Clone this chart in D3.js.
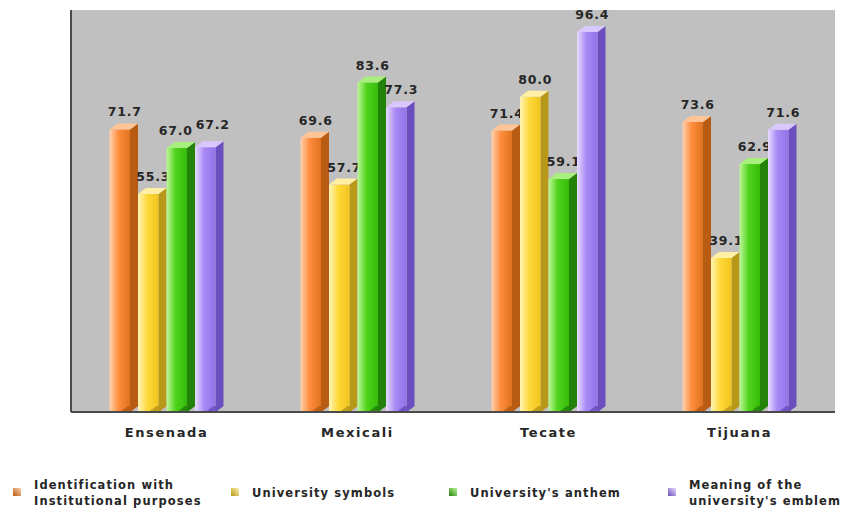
<!DOCTYPE html>
<html>
<head>
<meta charset="utf-8">
<script src="https://cdn.jsdelivr.net/npm/d3@7"></script>
<style>
  html, body { margin: 0; padding: 0; background: #ffffff; }
  svg { display: block; }
  text { font-family: "DejaVu Sans", Verdana, sans-serif; fill: #262626; }
</style>
</head>
<body>
<svg id="chart" width="846" height="515"></svg>
<script>
// Campus groups along the x axis
const campuses = ["Ensenada", "Mexicali", "Tecate", "Tijuana"];

// Series (one bar per campus each), in legend order
const seriesNames = [
  ["Identification with", "Institutional purposes"],
  ["University symbols"],
  ["University's anthem"],
  ["Meaning of the", "university's emblem"]
];
const identificationValues = [71.7, 69.6, 71.4, 73.6];
const symbolsValues        = [55.3, 57.7, 80.0, 39.1];
const anthemValues         = [67.0, 83.6, 59.1, 62.9];
const emblemValues         = [67.2, 77.3, 96.4, 71.6];
const seriesValues = [identificationValues, symbolsValues, anthemValues, emblemValues];

// light / base / side / cap colours per series
const palette = [
  { light: "#ffd2ae", base: "#ff8c3c", dark: "#e0731f", side: "#b85c14", cap: "#ffc596" },
  { light: "#fff4b8", base: "#ffd93a", dark: "#f0c41c", side: "#b89818", cap: "#fff0a6" },
  { light: "#bff79a", base: "#4fd31a", dark: "#36bb0c", side: "#23820a", cap: "#a8ef7e" },
  { light: "#e8dcff", base: "#a889f5", dark: "#9373e8", side: "#6c4fbe", cap: "#d8c8ff" }
];

const svg = d3.select("#chart");
const plot = { left: 71, right: 835, top: 10, bottom: 412 };

const x0 = d3.scaleBand().domain(campuses).range([plot.left, plot.right]).paddingInner(0).paddingOuter(0);
const groupWidth = 114;
const x1 = d3.scaleBand().domain(d3.range(seriesValues.length)).range([0, groupWidth]).padding(0);
const y = d3.scaleLinear().domain([0, 102]).range([plot.bottom, plot.top]);

const depthX = 8, depthY = 6;
const faceW = x1.bandwidth() - depthX;

// gradients
const defs = svg.append("defs");
palette.forEach((c, i) => {
  const g = defs.append("linearGradient").attr("id", "front" + i)
    .attr("x1", "0%").attr("x2", "100%").attr("y1", "0%").attr("y2", "0%");
  g.append("stop").attr("offset", "0%").attr("stop-color", c.light);
  g.append("stop").attr("offset", "45%").attr("stop-color", c.base);
  g.append("stop").attr("offset", "100%").attr("stop-color", c.dark);
  const s = defs.append("linearGradient").attr("id", "swatch" + i)
    .attr("x1", "0%").attr("x2", "100%").attr("y1", "100%").attr("y2", "0%");
  s.append("stop").attr("offset", "0%").attr("stop-color", c.side);
  s.append("stop").attr("offset", "100%").attr("stop-color", c.light);
});

// plot background
svg.append("rect")
  .attr("x", plot.left).attr("y", plot.top)
  .attr("width", plot.right - plot.left).attr("height", plot.bottom - plot.top)
  .attr("fill", "#c0c0c0");

// bars
const groups = svg.selectAll("g.campus").data(campuses).join("g")
  .attr("class", "campus")
  .attr("transform", d => `translate(${x0(d) + (x0.bandwidth() - groupWidth) / 2},0)`);

groups.each(function(campus, ci) {
  const g = d3.select(this);
  const labels = [];
  seriesValues.forEach((vals, si) => {
    const v = vals[ci];
    const bx = x1(si);
    const top = y(v);
    const base = y(0);
    const c = palette[si];
    // side face
    g.append("path")
      .attr("d", `M${bx + faceW},${top} L${bx + faceW + depthX},${top - depthY} L${bx + faceW + depthX},${base - depthY} L${bx + faceW},${base} Z`)
      .attr("fill", c.side);
    // front face
    g.append("rect")
      .attr("x", bx).attr("y", top).attr("width", faceW).attr("height", base - top)
      .attr("fill", `url(#front${si})`);
    // top cap
    g.append("path")
      .attr("d", `M${bx},${top} L${bx + depthX},${top - depthY} L${bx + faceW + depthX},${top - depthY} L${bx + faceW},${top} Z`)
      .attr("fill", c.cap);
    // floor shadow at foot of the side
    g.append("path")
      .attr("d", `M${bx + faceW - 10},${base} L${bx + faceW - 2},${base - depthY} L${bx + faceW + depthX},${base - depthY} L${bx + faceW},${base} Z`)
      .attr("fill", c.side).attr("opacity", 0.85);
    // value label
    const t = g.append("text")
      .attr("x", bx + x1.bandwidth() / 2 + 1)
      .attr("y", top - depthY - 7)
      .attr("text-anchor", "middle")
      .attr("font-size", 12.5).attr("font-weight", "bold")
      .attr("letter-spacing", 0.8)
      .attr("fill", "#2a2a2a")
      .text(v.toFixed(1));
    labels.push(t);
  });
  // keep neighbouring value labels apart: spread sideways and lift the later one
  for (let i = 1; i < labels.length; i++) {
    const a = labels[i - 1].node().getBBox();
    const b = labels[i].node().getBBox();
    const overlapX = a.x + a.width + 3 - b.x;
    const overlapY = Math.min(a.y + a.height, b.y + b.height) - Math.max(a.y, b.y);
    if (overlapX > 0 && overlapY > 0) {
      labels[i - 1].attr("x", +labels[i - 1].attr("x") - overlapX * 0.7);
      labels[i].attr("x", +labels[i].attr("x") + overlapX * 0.3)
        .attr("y", +labels[i].attr("y") - 5);
    }
  }
});

// axes lines
svg.append("line").attr("x1", plot.left).attr("x2", plot.left).attr("y1", plot.top).attr("y2", plot.bottom)
  .attr("stroke", "#4a4a4a").attr("stroke-width", 2);
svg.append("line").attr("x1", plot.left).attr("x2", plot.right).attr("y1", plot.bottom).attr("y2", plot.bottom)
  .attr("stroke", "#4a4a4a").attr("stroke-width", 2);

// category axis labels
const xAxis = d3.axisBottom(x0).tickSize(0).tickPadding(16);
const ax = svg.append("g").attr("transform", `translate(0,${plot.bottom})`).call(xAxis);
ax.select(".domain").remove();
ax.selectAll("text")
  .attr("font-size", 13).attr("font-family", "DejaVu Sans, sans-serif")
  .attr("font-weight", "bold")
  .attr("letter-spacing", 1.6).attr("fill", "#2a2a2a");

// legend
const legendX = [13, 231, 449, 668];
const legend = svg.append("g");
seriesNames.forEach((lines, i) => {
  const lg = legend.append("g").attr("transform", `translate(${legendX[i]},492)`);
  lg.append("rect").attr("x", 0).attr("y", -4).attr("width", 8).attr("height", 8)
    .attr("fill", `url(#swatch${i})`);
  const t = lg.append("text").attr("x", 21).attr("font-size", 11.5).attr("font-weight", "bold")
    .attr("letter-spacing", 1.1).attr("fill", "#2a2a2a");
  if (lines.length === 1) {
    t.append("tspan").attr("x", 21).attr("y", 5).text(lines[0]);
  } else {
    t.append("tspan").attr("x", 21).attr("y", -3).text(lines[0]);
    t.append("tspan").attr("x", 21).attr("y", 13).text(lines[1]);
  }
});
</script>
</body>
</html>
